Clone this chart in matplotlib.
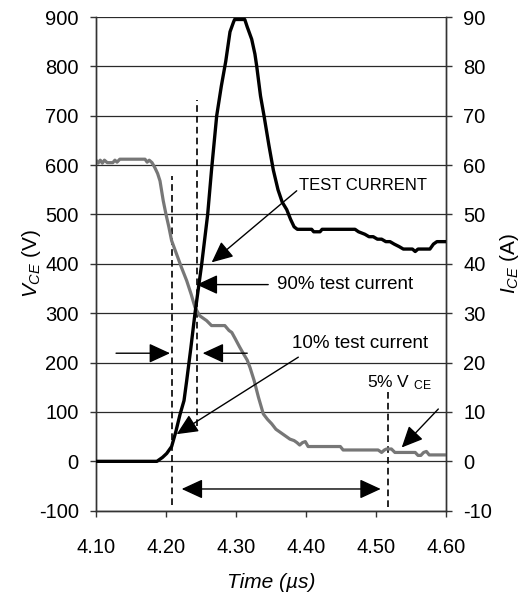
import matplotlib.pyplot as plt
from matplotlib.ticker import MultipleLocator, StrMethodFormatter

plt.rcParams['font.family'] = 'Liberation Sans'
plt.rcParams['mathtext.fontset'] = 'custom'
plt.rcParams['mathtext.rm'] = 'Liberation Sans'
plt.rcParams['mathtext.it'] = 'Liberation Sans:italic'
plt.rcParams['axes.unicode_minus'] = False

# collector-emitter voltage (V), grey trace
time_vce = [4.100, 4.103, 4.106, 4.109, 4.112, 4.116, 4.124, 4.127, 4.130, 4.134,
            4.170, 4.173, 4.176, 4.180, 4.184, 4.188, 4.1914, 4.196, 4.200, 4.204,
            4.208, 4.215, 4.222, 4.2295, 4.236, 4.2414, 4.248, 4.258, 4.265, 4.284,
            4.290, 4.294, 4.299, 4.305, 4.311, 4.316, 4.320, 4.326, 4.332, 4.339,
            4.345, 4.351, 4.357, 4.363, 4.370, 4.377, 4.383, 4.387, 4.391, 4.395,
            4.399, 4.403, 4.449, 4.453, 4.503, 4.508, 4.512, 4.515, 4.522, 4.527,
            4.556, 4.560, 4.564, 4.568, 4.572, 4.576, 4.600]
vce = [610, 604, 610, 604, 610, 605, 605, 610, 606, 612,
       612, 606, 610, 605, 595, 583, 568, 528, 500, 475,
       447, 420, 393, 366, 338, 312, 295, 285, 275, 275,
       265, 261, 248, 232, 217, 205, 190, 163, 130, 96,
       85, 76, 65, 59, 52, 45, 42, 38, 33, 38,
       40, 30, 30, 23, 23, 18, 23, 25, 25, 18,
       18, 12, 12, 18, 20, 13, 13]

# collector current (A), black trace
time_ice = [4.100, 4.187, 4.195, 4.201, 4.208, 4.214, 4.220, 4.2257, 4.2295, 4.2355,
            4.2414, 4.251, 4.2595, 4.265, 4.2724, 4.279, 4.2853, 4.2914, 4.2965, 4.298,
            4.3125, 4.316, 4.3224, 4.327, 4.3296, 4.335, 4.340, 4.347, 4.3533, 4.360,
            4.366, 4.3724, 4.378, 4.383, 4.3876, 4.408, 4.411, 4.420, 4.423, 4.470,
            4.475, 4.484, 4.490, 4.496, 4.502, 4.508, 4.514, 4.520, 4.526, 4.533,
            4.539, 4.552, 4.556, 4.560, 4.577, 4.582, 4.587, 4.600]
ice = [0, 0, 0.8, 1.6, 3.0, 6.0, 9.5, 12.3, 16.3, 23,
       30, 40, 50, 59, 70, 76, 81, 87, 89, 89.5,
       89.5, 88, 85.5, 82.5, 80, 74, 70, 64, 59, 55,
       52.5, 51, 49, 47.5, 47, 47, 46.5, 46.5, 47, 47,
       46.5, 46, 45.5, 45.5, 45, 45, 44.5, 44.5, 44, 43.5,
       43, 43, 42.5, 43, 43, 44, 44.5, 44.5]

fig = plt.figure(figsize=(5.23, 5.99), dpi=100)
ax = fig.add_axes([0.1836, 0.1474, 0.6692, 0.8242])
ax2 = ax.twinx()

ax.set_xlim(4.10, 4.60)
ax.set_ylim(-100, 900)
ax2.set_ylim(-10, 90)
ax.xaxis.set_major_locator(MultipleLocator(0.1))
ax.xaxis.set_major_formatter(StrMethodFormatter('{x:.2f}'))
ax.yaxis.set_major_locator(MultipleLocator(100))
ax2.yaxis.set_major_locator(MultipleLocator(10))

ax.grid(axis='y', color='#2a2a2a', lw=0.9)
ax.set_axisbelow(True)
for a in (ax, ax2):
    a.spines['top'].set_visible(False)
    for s in ('left', 'right', 'bottom'):
        a.spines[s].set_color('#333333')
        a.spines[s].set_linewidth(1.0)
    a.tick_params(labelsize=14.5, length=4.5, width=1, direction='out', colors='#333333',
                  labelcolor='black', pad=8)
ax.tick_params(axis='x', pad=15)

ax.plot(time_vce, vce, color='#777777', lw=2.3, zorder=3)
ax2.plot(time_ice, ice, color='black', lw=2.4, zorder=3)

# dashed markers
dash = dict(color='black', lw=1.2, linestyles=(0, (4, 2.5)))
ax.vlines(4.208, -88, 578, **dash)
ax.vlines(4.2438, 72, 732, **dash)
ax.vlines(4.5176, -92, 140, **dash)

head = dict(arrowstyle='-|>,head_length=0.65,head_width=0.3', mutation_scale=20,
            color='black', lw=1.0, shrinkA=0, shrinkB=0)
ax.annotate('', xy=(4.2057, 219), xytext=(4.1286, 219), arrowprops=head)
ax.annotate('', xy=(4.2524, 219), xytext=(4.316, 219), arrowprops=head)
ax.annotate('', xy=(4.2224, -56), xytext=(4.5067, -56),
            arrowprops=dict(head, arrowstyle='<|-|>,head_length=0.65,head_width=0.3'))
ax.annotate('', xy=(4.2652, 403), xytext=(4.3867, 548), arrowprops=head)
ax.annotate('', xy=(4.2438, 358), xytext=(4.346, 358), arrowprops=head)
ax.annotate('', xy=(4.2152, 55), xytext=(4.389, 211), arrowprops=head)
ax.annotate('', xy=(4.5367, 28), xytext=(4.589, 106), arrowprops=head)

ax.text(4.3895, 558, 'TEST CURRENT', fontsize=12, va='center', ha='left')
ax.text(4.358, 358, '90% test current', fontsize=13.5, va='center', ha='left')
ax.text(4.3805, 238, '10% test current', fontsize=13.5, va='center', ha='left')
ax.text(4.4865, 160, r'5% V $_{\mathrm{CE}}$', fontsize=12.5, va='center', ha='left')

ax.set_xlabel('Time (µs)', fontsize=15, style='italic', labelpad=12)
ax.set_ylabel(r'$V_{CE}$ (V)', fontsize=15)
ax2.set_ylabel(r'$I_{CE}$ (A)', fontsize=15)
ax.yaxis.set_label_coords(-0.152, 0.5)
ax2.yaxis.set_label_coords(1.149, 0.5)

fig.savefig('out.png', dpi=100)
